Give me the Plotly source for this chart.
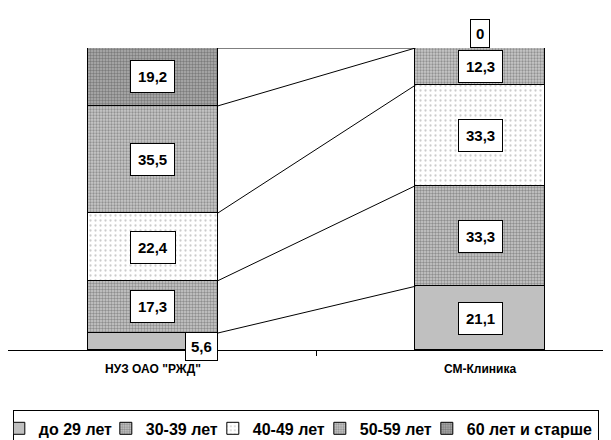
import plotly.graph_objects as go
import numpy as np

categories = ["НУЗ ОАО \"РЖД\"", "СМ-Клиника"]
series_names = ["до 29 лет", "30-39 лет", "40-49 лет", "50-59 лет", "60 лет и старше"]
values_nuz = [5.6, 17.3, 22.4, 35.5, 19.2]
values_sm = [21.1, 33.3, 33.3, 12.3, 0]

FONT = "Arial, Liberation Sans, sans-serif"
BAR_W = 0.395

styles = [
    dict(color="#c0c0c0"),
    dict(color="#a8a8a8", pattern=dict(shape=".", fgcolor="#505050", bgcolor="#cccccc", size=3, solidity=0.5)),
    dict(color="#f0f0f0", pattern=dict(shape=".", fgcolor="#9a9a9a", bgcolor="#ffffff", size=5, solidity=0.16)),
    dict(color="#a0a0a0", pattern=dict(shape=".", fgcolor="#5a5a5a", bgcolor="#c8c8c8", size=3, solidity=0.45)),
    dict(color="#909090", pattern=dict(shape=".", fgcolor="#484848", bgcolor="#b0b0b0", size=3, solidity=0.5)),
]
legend_widths = [77, 77, 77, 77, 126]

fig = go.Figure()
xs = [0, 1]
for k, name in enumerate(series_names):
    st = styles[k]
    marker = dict(color=st["color"], line=dict(color="black", width=1))
    if "pattern" in st:
        marker["pattern"] = st["pattern"]
    fig.add_trace(go.Bar(x=xs, y=[values_nuz[k], values_sm[k]], name="<b>%s</b>" % name,
                         width=BAR_W, marker=marker, legendwidth=legend_widths[k]))

cum_nuz = np.cumsum(values_nuz)
cum_sm = np.cumsum(values_sm)
for k in range(len(series_names)):
    fig.add_trace(go.Scatter(x=[BAR_W / 2, 1 - BAR_W / 2], y=[cum_nuz[k], cum_sm[k]],
                             mode="lines", line=dict(color="black", width=1),
                             showlegend=False, hoverinfo="skip"))

def fmt(v):
    return ("%g" % v).replace(".", ",")

annotations = []
for bi, vals in enumerate([values_nuz, values_sm]):
    cum = np.cumsum(vals)
    for k, v in enumerate(vals):
        a = dict(x=bi, y=cum[k] - v / 2, text="<b>%s</b>" % fmt(v), showarrow=False,
                 bgcolor="white", bordercolor="black", borderwidth=1, borderpad=7,
                 font=dict(family=FONT, size=15, color="black"))
        if v == 0:
            a.update(y=cum[k], yanchor="bottom", yshift=0, borderpad=5)
        elif v < 8:
            a.update(x=bi + BAR_W / 2, xanchor="right", y=0, yanchor="middle", yshift=4,
                     borderpad=5)
        annotations.append(a)

fig.update_layout(
    barmode="stack",
    width=603, height=432,
    margin=dict(l=0, r=0, t=40, b=90, autoexpand=False),
    plot_bgcolor="white", paper_bgcolor="white",
    bargap=0,
    annotations=annotations,
    font=dict(family=FONT, color="black"),
    legend=dict(orientation="h", x=0.008, xanchor="left", y=-0.2, yanchor="top",
                bordercolor="black", borderwidth=1, itemwidth=30, indentation=-15,
                font=dict(family=FONT, size=16, color="black"),
                traceorder="normal", tracegroupgap=0),
)
fig.update_xaxes(range=[-0.4434, 1.4006], tickvals=xs,
                 ticktext=["<b>%s</b>" % c for c in categories],
                 tickfont=dict(family=FONT, size=12, color="black"),
                 ticklabelstandoff=8,
                 showline=True, linecolor="black", linewidth=1, ticks="",
                 showgrid=False, zeroline=False,
                 minor=dict(tickvals=[0.5], ticks="outside", ticklen=5, tickcolor="black"))
fig.update_yaxes(range=[0, 100], visible=False, showgrid=False, zeroline=False)

fig.write_html("out.html")
